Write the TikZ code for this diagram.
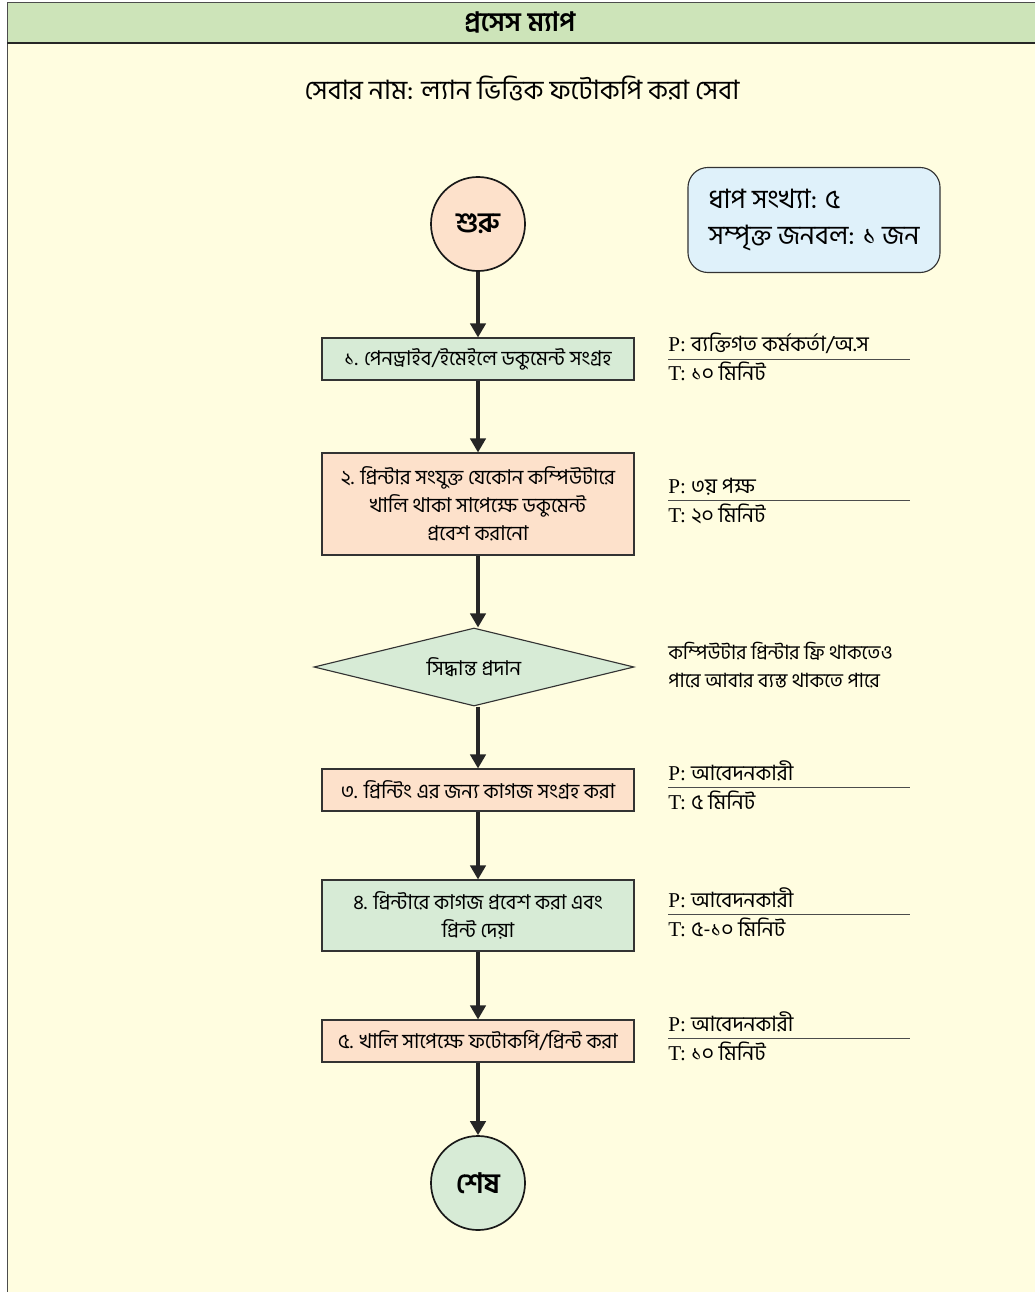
\documentclass[tikz,border=0pt]{standalone}
\usepackage{fontspec}
\setmainfont{Liberation Serif}
\newfontfamily\bn[Script=Bengali]{Hind Siliguri}
\usetikzlibrary{arrows.meta,shapes.geometric,positioning}
\definecolor{headgreen}{HTML}{CDE4B9}
\definecolor{paper}{HTML}{FFFDE0}
\definecolor{boxgreen}{HTML}{D7EBD6}
\definecolor{boxpeach}{HTML}{FDE1CB}
\definecolor{infoblue}{HTML}{DFF1FA}
\tikzset{%
  stepbox/.style={draw=black!80, line width=0.8pt, minimum width=7.8cm, inner sep=2pt, align=center, font=\bn\fontsize{14.5}{20}\selectfont},%
  terminal/.style={circle, draw=black!90, line width=1.2pt, minimum size=2.35cm, inner sep=0pt, font=\bn\bfseries\fontsize{20}{24}\selectfont},%
  flow/.style={-{Triangle[length=10pt,width=11pt]}, line width=2.2pt, black!85},%
  note/.style={anchor=base west, inner sep=0pt, font=\fontsize{15}{20}\selectfont},%
  rule/.style={line width=0.6pt, black!70},%
}
\begin{document}
\begin{tikzpicture}[x=0.025cm,y=-0.025cm]%
\useasboundingbox (0,0) rectangle (1035,1292);%
% frame
\fill[paper] (7,2) rectangle (1035,1292);%
\fill[headgreen] (7,2) rectangle (1035,43);%
\draw[line width=0.6pt, black!70] (1035,2) -- (7,2) -- (7,1292);%
\draw[line width=1.2pt, black!85] (7,43) -- (1035,43);%
\node[font=\bn\bfseries\fontsize{19}{22}\selectfont] (title) at (520,22) {প্রসেস ম্যাপ};%
\node[font=\bn\fontsize{19}{24}\selectfont] (service) at (522,88) {সেবার নাম: ল্যান ভিত্তিক ফটোকপি করা সেবা};%
% info box
\node[draw=black!80, line width=0.8pt, fill=infoblue, rounded corners=0.5cm, minimum width=6.3cm, minimum height=2.625cm, align=left, font=\bn\fontsize{19}{25}\selectfont] (info) at (814,220) {ধাপ সংখ্যা: ৫\\সম্পৃক্ত জনবল: ১ জন};%
% flow
\node[terminal, fill=boxpeach] (start) at (478,224) {শুরু};%
\node[stepbox, fill=boxgreen, minimum height=1.05cm] (s1) at (478,359) {১. পেনড্রাইব/ইমেইলে ডকুমেন্ট সংগ্রহ};%
\node[stepbox, fill=boxpeach, minimum height=2.55cm] (s2) at (478,504) {২. প্রিন্টার সংযুক্ত যেকোন কম্পিউটারে\\খালি থাকা সাপেক্ষে ডকুমেন্ট\\প্রবেশ করানো};%
\node[diamond, draw=black!80, line width=0.8pt, fill=boxgreen, aspect=4, inner sep=0pt, minimum width=8cm, minimum height=1.95cm, font=\bn\fontsize{14.5}{20}\selectfont] (decide) at (474,667) {সিদ্ধান্ত প্রদান};%
\node[stepbox, fill=boxpeach, minimum height=1.05cm] (s3) at (478,790) {৩. প্রিন্টিং এর জন্য কাগজ সংগ্রহ করা};%
\node[stepbox, fill=boxgreen, minimum height=1.775cm] (s4) at (478,915.5) {৪. প্রিন্টারে কাগজ প্রবেশ করা এবং\\প্রিন্ট দেয়া};%
\node[stepbox, fill=boxpeach, minimum height=1.05cm] (s5) at (478,1041) {৫. খালি সাপেক্ষে ফটোকপি/প্রিন্ট করা};%
\node[terminal, fill=boxgreen] (stop) at (478,1183) {শেষ};%
%
\draw[flow] (start) -- (s1);%
\draw[flow] (s1) -- (s2);%
\draw[flow] (s2.south) -- (s2.south |- decide.north);%
\draw[flow] (decide.south -| s3.north) -- (s3);%
\draw[flow] (s3) -- (s4);%
\draw[flow] (s4) -- (s5);%
\draw[flow] (s5) -- (stop);%
% notes
\def\ypos{359};%
\node[note] (p1) at (668,\ypos-7) {P: {\bn ব্যক্তিগত কর্মকর্তা/অ.স}};%
\node[note] (t1) at (668,\ypos+22) {T: {\bn ১০ মিনিট}};%
\draw[rule] (668,\ypos) -- (910,\ypos);%
%
\def\ypos{500};%
\node[note] (p2) at (668,\ypos-7) {P: {\bn ৩য় পক্ষ}};%
\node[note] (t2) at (668,\ypos+22) {T: {\bn ২০ মিনিট}};%
\draw[rule] (668,\ypos) -- (910,\ypos);%
%
\node[anchor=west, inner sep=0pt, align=left, font=\bn\fontsize{14}{20.5}\selectfont] (why) at (668,665) {কম্পিউটার প্রিন্টার ফ্রি থাকতেও\\পারে আবার ব্যস্ত থাকতে পারে};%
%
\def\ypos{787};%
\node[note] (p3) at (668,\ypos-7) {P: {\bn আবেদনকারী}};%
\node[note] (t3) at (668,\ypos+22) {T: {\bn ৫ মিনিট}};%
\draw[rule] (668,\ypos) -- (910,\ypos);%
%
\def\ypos{914};%
\node[note] (p4) at (668,\ypos-7) {P: {\bn আবেদনকারী}};%
\node[note] (t4) at (668,\ypos+22) {T: {\bn ৫-১০ মিনিট}};%
\draw[rule] (668,\ypos) -- (910,\ypos);%
%
\def\ypos{1038};%
\node[note] (p5) at (668,\ypos-7) {P: {\bn আবেদনকারী}};%
\node[note] (t5) at (668,\ypos+22) {T: {\bn ১০ মিনিট}};%
\draw[rule] (668,\ypos) -- (910,\ypos);%
\end{tikzpicture}
\end{document}
